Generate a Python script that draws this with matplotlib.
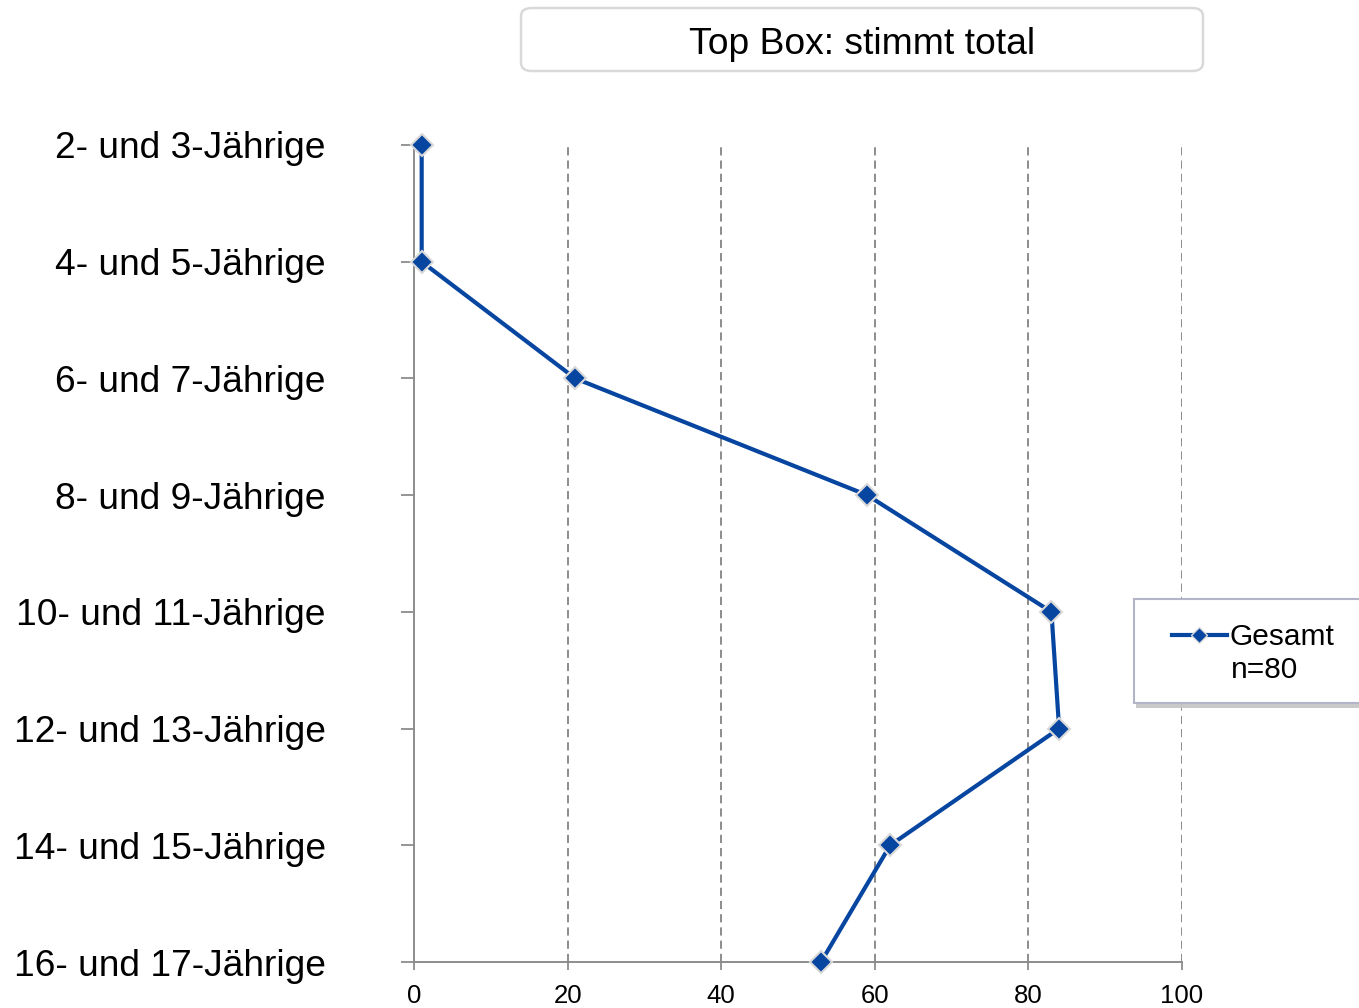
import numpy as np
import matplotlib
matplotlib.use('Agg')
from matplotlib import pyplot as plt
from matplotlib.patches import FancyBboxPatch, Rectangle

plt.rcParams['font.family'] = ['Liberation Sans', 'DejaVu Sans']

# age groups, top to bottom
groups = ['2- und 3-Jährige', '4- und 5-Jährige', '6- und 7-Jährige',
          '8- und 9-Jährige', '10- und 11-Jährige', '12- und 13-Jährige',
          '14- und 15-Jährige', '16- und 17-Jährige']
gesamt = [1, 1, 21, 59, 83, 84, 62, 53]
xticks = [0, 20, 40, 60, 80, 100]
title = 'Top Box: stimmt total'
series_name = 'Gesamt'
series_n = 'n=80'

blue = '#0645A0'
grey = '#8C8C8C'

W, H = 1359., 1008.
fig = plt.figure(figsize=(13.59, 10.08), dpi=100)
ax = fig.add_axes([414/W, 46/H, 768/W, 817/H])

ypos = np.arange(len(groups))
line, = ax.plot(gesamt, ypos, '-', color=blue, lw=3.0, marker='D', ms=11.5,
                mfc=blue, mec='#D9D9D9', mew=1.5, clip_on=False, zorder=5,
                label=series_name)

ax.set_xlim(0, 100)
ax.set_ylim(len(groups)-1, 0)
ax.set_xticks(xticks)
ax.set_yticks(ypos)
ax.set_yticklabels(groups, fontsize=26.7)
ax.set_xticklabels([str(v) for v in xticks], fontsize=18.5)

ax.tick_params(axis='y', direction='out', length=9.5, width=1.3, color=grey, pad=54)
ax.tick_params(axis='x', direction='out', length=6, width=1.3, color=grey, pad=10)

for side in ['top', 'right']:
    ax.spines[side].set_visible(False)
for side in ['left', 'bottom']:
    ax.spines[side].set_color(grey)
    ax.spines[side].set_linewidth(1.4)

# dashed vertical gridlines (skip the one on the axis at 0)
for v in xticks[1:]:
    ax.axvline(v, color=grey, lw=1.4, ls=(0, (4.2, 2.6)), zorder=1)

# title box
tbox = FancyBboxPatch((521/W, (H-71)/H), 682/W, 63/H,
                      boxstyle='round,pad=0,rounding_size=0.008',
                      transform=fig.transFigure, fc='white', ec='#D9D9D9', lw=1.8)
fig.patches.append(tbox)
fig.text(862/W, (H-45)/H, title, ha='center', va='center', fontsize=26.8)

# legend box with drop shadow
shadow = Rectangle((1136/W, (H-708)/H), 300/W, 106/H,
                   transform=fig.transFigure, fc='#C4C4C4', ec='none', alpha=0.9)
lbox = Rectangle((1134/W, (H-703)/H), 300/W, 104/H,
                 transform=fig.transFigure, fc='white', ec='#B4B4C8', lw=1.5)
fig.patches.append(shadow)
fig.patches.append(lbox)

leg = fig.legend(handles=[line], loc='center left',
                 bbox_to_anchor=(1172/W, (H-637)/H),
                 frameon=False, fontsize=21.5, handlelength=1.84,
                 handletextpad=0.08, borderpad=0, borderaxespad=0)
for h in leg.legend_handles:
    h.set_markersize(8.5)
    h.set_markeredgewidth(1.0)
fig.text(1231/W, (H-678)/H, series_n, ha='left', va='baseline', fontsize=21.5)

fig.savefig('out.png', dpi=100)
